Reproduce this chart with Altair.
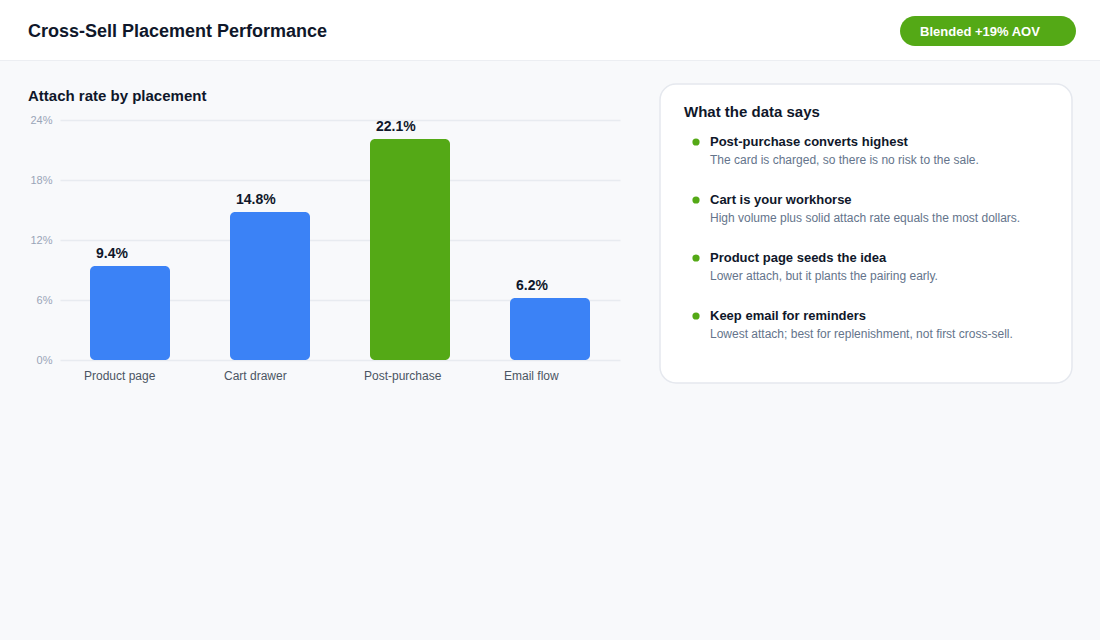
import altair as alt
import pandas as pd

# --- data -------------------------------------------------------------
placements = ["Product page", "Cart drawer", "Post-purchase", "Email flow"]
attach_rate = [9.4, 14.8, 22.1, 6.2]  # percent
highlight = "Post-purchase"

y_ticks = [0, 6, 12, 18, 24]

page_title = "Cross-Sell Placement Performance"
badge_text = "Blended +19% AOV"
chart_title = "Attach rate by placement"
card_title = "What the data says"
note_titles = [
    "Post-purchase converts highest",
    "Cart is your workhorse",
    "Product page seeds the idea",
    "Keep email for reminders",
]
note_details = [
    "The card is charged, so there is no risk to the sale.",
    "High volume plus solid attach rate equals the most dollars.",
    "Lower attach, but it plants the pairing early.",
    "Lowest attach; best for replenishment, not first cross-sell.",
]

# --- palette / type ----------------------------------------------------
FONT = "Liberation Sans"
BLUE = "#3b82f6"
GREEN = "#54a916"
INK = "#0f172a"
MUTED = "#64748b"
PAGE_BG = "#f8f9fb"
LINE = "#eceef2"

# plot area origin sits at (60, 120) on the 1100x640 page
OX, OY = 60, 120


def one():
    return pd.DataFrame({"k": [0]})


def px(x):
    return alt.value(x - OX)


def py(y):
    return alt.value(y - OY)


def box(x1, x2, y1, y2, **kw):
    return alt.Chart(one()).mark_rect(**kw).encode(
        x=px(x1), x2=px(x2), y=py(y1), y2=py(y2)
    )


def label(text, x, y, size, color=INK, weight="normal", align="left"):
    return alt.Chart(one()).mark_text(
        text=text, font=FONT, fontSize=size, fontWeight=weight,
        color=color, align=align, baseline="middle",
    ).encode(x=px(x), y=py(y))


layers = []

# header strip
layers.append(box(0, 1100, 0, 60, color="white"))
layers.append(
    alt.Chart(one()).mark_rule(color=LINE, strokeWidth=1).encode(
        x=px(0), x2=px(1100), y=py(60.5)
    )
)
layers.append(label(page_title, 28, 32, 18, weight="bold"))

# badge
layers.append(box(900, 1076, 16, 46, color=GREEN, cornerRadius=15))
layers.append(label(badge_text, 980, 32, 13, color="white", weight="bold", align="center"))

# chart heading
layers.append(label(chart_title, 28, 96, 15, weight="bold"))

# insight card
layers.append(box(660, 1072, 84, 383, color="white", stroke="#e5e8ee",
                  strokeWidth=1.5, cornerRadius=16))
layers.append(label(card_title, 684, 112, 15, weight="bold"))
for i, (t, d) in enumerate(zip(note_titles, note_details)):
    yb = 142 + i * 58
    layers.append(
        alt.Chart(one()).mark_circle(color=GREEN, opacity=1, size=52).encode(
            x=px(696), y=py(yb)
        )
    )
    layers.append(label(t, 710, yb, 13, weight="bold"))
    layers.append(label(d, 710, yb + 18, 12, color=MUTED))

# --- bars ---------------------------------------------------------------
bars_df = pd.DataFrame({"placement": placements, "rate": attach_rate})

x_enc = alt.X(
    "placement:N", sort=placements, title=None,
    scale=alt.Scale(paddingInner=0, paddingOuter=0),
    axis=alt.Axis(
        labelAngle=0, labelAlign="left", labelOffset=-46, labelPadding=10,
        labelFont=FONT, labelFontSize=12, labelColor="#4b5563",
        ticks=False, domain=False, grid=False,
    ),
)
y_enc = alt.Y(
    "rate:Q", title=None,
    scale=alt.Scale(domain=[0, 24], nice=False),
    axis=alt.Axis(
        values=y_ticks, labelExpr="datum.value + '%'",
        labelFont=FONT, labelFontSize=11, labelColor="#9aa5b8", labelPadding=8,
        ticks=False, domain=False, grid=True, gridColor="#e8ebf0", gridWidth=1.5,
    ),
)

base = alt.Chart(bars_df).encode(x=x_enc, y=y_enc)

bars = base.mark_bar(size=80, cornerRadius=5).encode(
    color=alt.condition(
        alt.datum.placement == highlight, alt.value(GREEN), alt.value(BLUE)
    )
)

values = base.transform_calculate(
    lbl="format(datum.rate, '.1f') + '%'"
).mark_text(
    font=FONT, fontSize=14, fontWeight="bold", color=INK,
    align="left", baseline="middle", dx=-34, dy=-12,
).encode(text="lbl:N")

layers += [bars, values]

chart = alt.layer(*layers).properties(
    width=560, height=240,
    autosize=alt.AutoSizeParams(type="none"),
    padding={"left": OX, "top": OY, "right": 1100 - OX - 560, "bottom": 640 - OY - 240},
).configure(
    background=PAGE_BG,
).configure_view(
    stroke=None,
)

chart.save("out.html", embed_options={"renderer": "svg", "actions": False})
